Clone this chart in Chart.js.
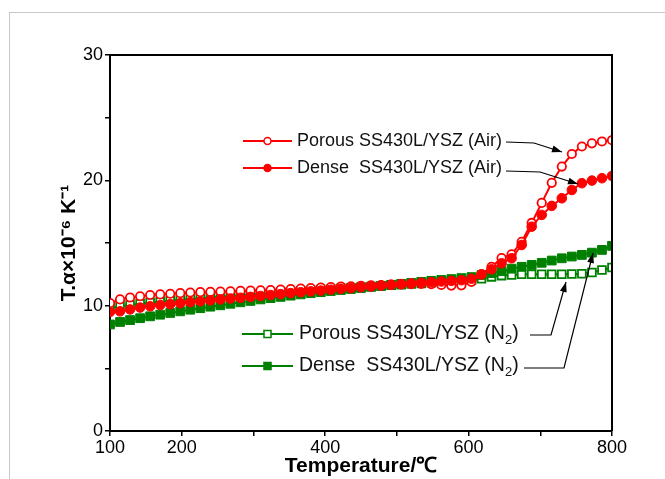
<!DOCTYPE html>
<html>
<head>
<meta charset="utf-8">
<script src="https://cdn.jsdelivr.net/npm/chart.js@4"></script>
<style>
  body { margin: 0; background: #fff; overflow: hidden; }
  #frame { position: absolute; left: 9px; top: 12px; width: 700px; height: 500px;
           border-left: 1px solid #c8c8c8; border-top: 1px solid #c8c8c8; }
  #wrap { position: absolute; left: 0; top: 0; width: 665px; height: 479px; }
</style>
</head>
<body>
<div id="frame"></div>
<div id="wrap"><canvas id="cte" width="665" height="479"></canvas></div>
<script>
// temperatures (°C)
const temps = [100,114,128,142,156,170,184,198,212,226,240,254,268,282,296,310,324,338,352,366,
  380,394,408,422,436,450,464,478,492,506,520,534,548,562,576,590,604,618,632,646,
  660,674,688,702,716,730,744,758,772,786,800];

const porousAir = [10.2,10.5,10.65,10.75,10.85,10.9,10.95,11.0,11.05,11.08,11.1,11.13,11.15,11.18,11.2,11.22,11.25,11.28,11.32,11.36,
  11.4,11.45,11.48,11.52,11.55,11.58,11.62,11.65,11.68,11.7,11.72,11.74,11.72,11.65,11.6,11.62,11.9,12.5,13.1,13.8,
  14.1,15.1,16.6,18.2,19.8,21.1,22.1,22.7,22.95,23.1,23.2];

const denseAir = [9.5,9.55,9.7,9.85,9.95,10.05,10.12,10.2,10.28,10.35,10.42,10.5,10.57,10.63,10.7,10.77,10.85,10.92,11.0,11.07,
  11.14,11.2,11.27,11.34,11.4,11.47,11.53,11.6,11.66,11.72,11.78,11.83,11.88,11.93,11.98,12.03,12.15,12.5,12.9,13.38,
  13.78,14.84,16.3,17.24,17.96,18.57,19.23,19.77,19.98,20.17,20.35];

const porousN2 = [9.8,9.95,10.05,10.15,10.25,10.32,10.4,10.47,10.54,10.6,10.66,10.72,10.78,10.84,10.9,10.96,11.02,11.08,11.13,11.18,
  11.23,11.28,11.33,11.38,11.43,11.48,11.53,11.58,11.63,11.68,11.73,11.78,11.83,11.88,11.93,11.98,12.05,12.15,12.3,12.4,
  12.45,12.5,12.5,12.5,12.5,12.5,12.52,12.55,12.65,12.85,13.05];

const denseN2 = [8.5,8.7,8.85,9.0,9.15,9.28,9.42,9.55,9.68,9.8,9.92,10.03,10.15,10.27,10.38,10.5,10.6,10.7,10.8,10.9,
  11.0,11.08,11.17,11.25,11.33,11.41,11.5,11.58,11.66,11.74,11.82,11.9,11.98,12.05,12.12,12.2,12.28,12.45,12.6,12.75,
  12.95,13.1,13.25,13.42,13.6,13.78,13.92,14.05,14.23,14.45,14.77];

const xTickLabels = [100, 200, 400, 600, 800];
const yTickLabels = [0, 10, 20, 30];

const RED = 'rgb(255,0,0)';
const GREEN = 'rgb(0,128,0)';
const FONT = 'Arial, "Liberation Sans", sans-serif';

function pts(vals) {
  return temps.map((t, i) => ({ x: t, y: vals[i] }));
}

// marker + line sample for the hand-placed legend
function sample(ctx, x1, x2, y, color, style, filled) {
  ctx.strokeStyle = color;
  ctx.lineWidth = 2;
  ctx.beginPath(); ctx.moveTo(x1, y); ctx.lineTo(x2, y); ctx.stroke();
  const mx = (x1 + x2) / 2;
  ctx.fillStyle = filled ? color : '#fff';
  ctx.lineWidth = 1.5;
  ctx.beginPath();
  if (style === 'circle') ctx.arc(mx, y, 3.5, 0, Math.PI * 2);
  else ctx.rect(mx - 3.5, y - 3.5, 7, 7);
  ctx.fill(); ctx.stroke();
}

function arrow(ctx, p) {
  ctx.strokeStyle = '#000';
  ctx.fillStyle = '#000';
  ctx.lineWidth = 1.2;
  ctx.beginPath();
  ctx.moveTo(p[0][0], p[0][1]);
  for (let i = 1; i < p.length; i++) ctx.lineTo(p[i][0], p[i][1]);
  ctx.stroke();
  const [ax, ay] = p[p.length - 2], [bx, by] = p[p.length - 1];
  const ang = Math.atan2(by - ay, bx - ax);
  ctx.beginPath();
  ctx.moveTo(bx, by);
  ctx.lineTo(bx - 10 * Math.cos(ang) + 3.5 * Math.sin(ang), by - 10 * Math.sin(ang) - 3.5 * Math.cos(ang));
  ctx.lineTo(bx - 10 * Math.cos(ang) - 3.5 * Math.sin(ang), by - 10 * Math.sin(ang) + 3.5 * Math.cos(ang));
  ctx.closePath();
  ctx.fill();
}

function label(ctx, x, y, size, text, sub, tail) {
  ctx.fillStyle = '#111';
  ctx.font = size + 'px ' + FONT;
  ctx.textBaseline = 'middle';
  ctx.textAlign = 'left';
  ctx.fillText(text, x, y);
  if (!sub) return;
  let w = ctx.measureText(text).width;
  ctx.font = Math.round(size * 0.68) + 'px ' + FONT;
  ctx.fillText(sub, x + w, y + 6);
  w += ctx.measureText(sub).width;
  ctx.font = size + 'px ' + FONT;
  ctx.fillText(tail, x + w, y);
}

const notes = {
  id: 'notes',
  afterDraw(chart) {
    const ctx = chart.ctx, a = chart.chartArea;
    ctx.save();
    // close the frame on top and right
    ctx.strokeStyle = '#000';
    ctx.lineWidth = 2;
    ctx.beginPath();
    ctx.moveTo(a.left, a.top); ctx.lineTo(a.right, a.top); ctx.lineTo(a.right, a.bottom);
    ctx.stroke();

    sample(ctx, 243, 292, 141, RED, 'circle', false);
    sample(ctx, 243, 292, 168, RED, 'circle', true);
    sample(ctx, 242, 293, 334, GREEN, 'rect', false);
    sample(ctx, 242, 293, 366, GREEN, 'rect', true);

    label(ctx, 297, 141, 18, 'Porous SS430L/YSZ (Air)');
    label(ctx, 297, 168, 18, 'Dense  SS430L/YSZ (Air)');
    label(ctx, 299, 334, 19.5, 'Porous SS430L/YSZ (N', '2', ')');
    label(ctx, 299, 366, 19.5, 'Dense  SS430L/YSZ (N', '2', ')');

    arrow(ctx, [[506, 142], [534, 143], [562, 152]]);
    arrow(ctx, [[506, 171], [540, 172], [578, 184]]);
    arrow(ctx, [[530, 335], [551, 335], [566, 282]]);
    arrow(ctx, [[524, 368], [564, 368], [593, 253]]);
    ctx.restore();
  }
};

new Chart(document.getElementById('cte'), {
  type: 'line',
  data: {
    datasets: [
      { label: 'Porous SS430L/YSZ (Air)', data: pts(porousAir), borderColor: RED, borderWidth: 2,
        pointStyle: 'circle', pointRadius: 4.2, pointBorderWidth: 1.8,
        pointBackgroundColor: '#fff', pointBorderColor: RED, order: 2 },
      { label: 'Dense  SS430L/YSZ (Air)', data: pts(denseAir), borderColor: RED, borderWidth: 2,
        pointStyle: 'circle', pointRadius: 4.8, pointBorderWidth: 1,
        pointBackgroundColor: RED, pointBorderColor: RED, order: 1 },
      { label: 'Porous SS430L/YSZ (N2)', data: pts(porousN2), borderColor: GREEN, borderWidth: 2,
        pointStyle: 'rect', pointRadius: 5.5, pointBorderWidth: 1.8,
        pointBackgroundColor: '#fff', pointBorderColor: GREEN, order: 4 },
      { label: 'Dense  SS430L/YSZ (N2)', data: pts(denseN2), borderColor: GREEN, borderWidth: 2,
        pointStyle: 'rect', pointRadius: 6.2, pointBorderWidth: 1,
        pointBackgroundColor: GREEN, pointBorderColor: GREEN, order: 3 }
    ]
  },
  options: {
    responsive: false,
    animation: false,
    layout: { padding: { left: 57, top: 55, right: 53, bottom: 0 } },
    plugins: { legend: { display: false }, tooltip: { enabled: false } },
    scales: {
      x: {
        type: 'linear', min: 100, max: 800,
        afterFit(s) { s.height = 48; },
        ticks: { stepSize: 100, autoSkip: false, maxRotation: 0, color: '#000', padding: 1,
          font: { size: 18, family: FONT },
          callback: v => xTickLabels.includes(v) ? v : '' },
        grid: { drawOnChartArea: false, color: '#000', lineWidth: 1.5, tickLength: 5 },
        border: { color: '#000', width: 2 },
        title: { display: true, text: 'Temperature/℃', color: '#000', padding: 0,
          font: { size: 21, weight: 'bold', family: FONT } }
      },
      y: {
        min: 0, max: 30,
        afterFit(s) { s.width = 53; },
        ticks: { stepSize: 5, color: '#000', padding: 2,
          font: { size: 18, family: FONT },
          callback: v => yTickLabels.includes(v) ? v : '' },
        grid: { drawOnChartArea: false, color: '#000', lineWidth: 1.5, tickLength: 5 },
        border: { color: '#000', width: 2 },
        title: { display: true, text: 'T.α×10⁻⁶ K⁻¹', color: '#000', padding: 0,
          font: { size: 21, weight: 'bold', family: FONT } }
      }
    }
  },
  plugins: [notes]
});
</script>
</body>
</html>
